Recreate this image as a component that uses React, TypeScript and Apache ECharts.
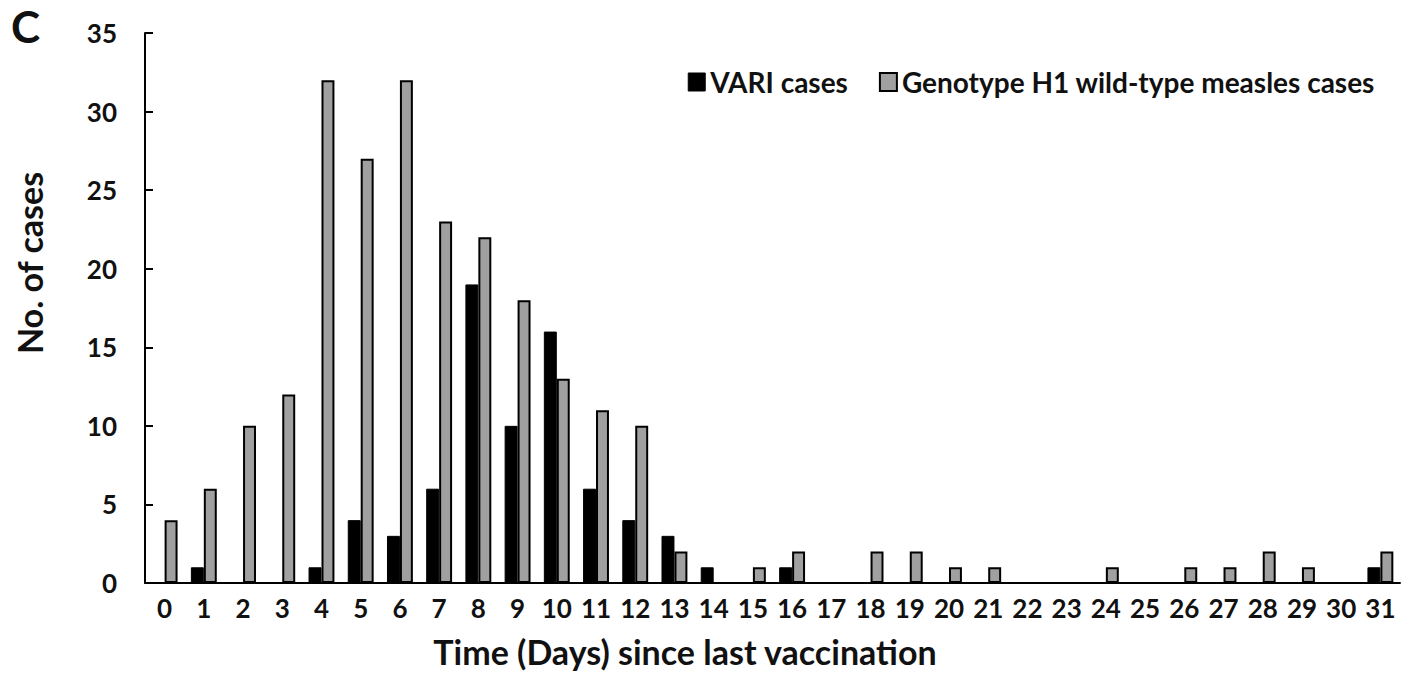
import React, { useEffect, useRef } from "react";
import * as echarts from "echarts";

const days = Array.from({ length: 32 }, (_, i) => String(i));
const variCases = [0, 1, 0, 0, 1, 4, 3, 6, 19, 10, 16, 6, 4, 3, 1, 0, 1, 0, 0, 0, 0, 0, 0, 0, 0, 0, 0, 0, 0, 0, 0, 1];
const h1Cases = [4, 6, 10, 12, 32, 27, 32, 23, 22, 18, 13, 11, 10, 2, 0, 1, 2, 0, 2, 2, 1, 1, 0, 0, 1, 0, 1, 1, 2, 1, 0, 2];
const yTicks = [0, 5, 10, 15, 20, 25, 30, 35];

const FONT = "Lato, 'Open Sans', sans-serif";

export default function App() {
  const ref = useRef<HTMLDivElement>(null);
  useEffect(() => {
    const chart = echarts.init(ref.current!, null, { renderer: "svg" });
    chart.setOption({
      animation: false,
      backgroundColor: "#ffffff",
      textStyle: { fontFamily: FONT },
      grid: { left: 145, right: 11, top: 33, bottom: 109 },
      legend: {
        right: 31,
        top: 63,
        icon: "rect",
        itemWidth: 17,
        itemHeight: 18,
        itemGap: 31,
        textStyle: { fontSize: 28, fontWeight: "bold", color: "#111", fontFamily: FONT },
        data: [
          { name: "VARI cases", itemStyle: { color: "#000", borderColor: "#000", borderWidth: 1 } },
          { name: "Genotype H1 wild-type measles cases", itemStyle: { color: "#a0a0a0", borderColor: "#000", borderWidth: 2 } },
        ],
      },
      graphic: [
        { type: "text", left: 11, top: 4, style: { text: "C", fontSize: 44, fontWeight: "bold", fill: "#111", fontFamily: FONT } },
        {
          type: "text",
          x: 29,
          y: 263,
          rotation: Math.PI / 2,
          style: {
            text: "No. of cases",
            fontSize: 34,
            fontWeight: "bold",
            fill: "#111",
            fontFamily: FONT,
            align: "center",
            verticalAlign: "middle",
          },
        },
        {
          type: "text",
          x: 685,
          y: 651,
          style: {
            text: "Time (Days) since last vaccination",
            fontSize: 34,
            fontWeight: "bold",
            fill: "#111",
            fontFamily: FONT,
            align: "center",
            verticalAlign: "middle",
          },
        },
      ],
      xAxis: {
        type: "category",
        data: days,
        axisLine: { lineStyle: { color: "#000", width: 2 } },
        axisTick: { inside: true, length: 8, lineStyle: { color: "#000", width: 2 } },
        axisLabel: { fontSize: 26, fontWeight: "bold", color: "#111", margin: 12, interval: 0, fontFamily: FONT },
      },
      yAxis: {
        type: "value",
        min: 0,
        max: 35,
        interval: 5,
        axisLine: { show: true, lineStyle: { color: "#000", width: 2 } },
        axisTick: { show: true, inside: true, length: 8, lineStyle: { color: "#000", width: 2 } },
        axisLabel: {
          fontSize: 26,
          fontWeight: "bold",
          color: "#111",
          margin: 28,
          fontFamily: FONT,
          formatter: (v: number) => (yTicks.includes(v) ? String(v) : ""),
        },
        splitLine: { show: false },
      },
      series: [
        {
          name: "VARI cases",
          type: "bar",
          data: variCases,
          barGap: "0%",
          barCategoryGap: "34%",
          itemStyle: { color: "#000", borderColor: "#000", borderWidth: 1 },
        },
        {
          name: "Genotype H1 wild-type measles cases",
          type: "bar",
          data: h1Cases,
          barGap: "0%",
          barCategoryGap: "34%",
          itemStyle: { color: "#a0a0a0", borderColor: "#000", borderWidth: 2 },
        },
      ],
    });
    return () => chart.dispose();
  }, []);
  return <div ref={ref} style={{ position: "absolute", left: 0, top: 0, width: 1411, height: 692 }} />;
}
